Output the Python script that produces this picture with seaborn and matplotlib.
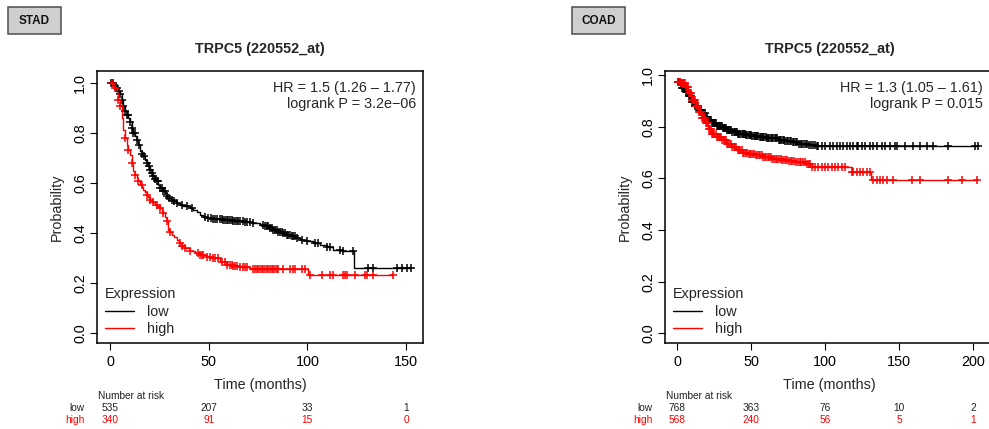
import numpy as np
import pandas as pd
import seaborn as sns
import matplotlib
matplotlib.use("Agg")
import matplotlib.pyplot as plt
import matplotlib.transforms as mtransforms
from matplotlib.patches import Rectangle

# ---- STAD: step points (time in months, survival) ----
stad_low_t = [0, 2.5, 3.4, 4.2, 5.1, 5.9, 6.8, 7.6, 8.4, 9.3, 10.1, 11, 11.8, 12.7, 13.5, 14.4, 15.2,
              16, 16.9, 17.7, 18.6, 19.4, 20.3, 21.1, 22, 22.8, 23.6, 24.5, 25.3, 26.6, 27.9, 28.7,
              29.6, 30.9, 32.1, 33.8, 35.5, 37.2, 38.9, 40.5, 42.2, 43.9, 45.6, 47.3, 49, 52.4, 57,
              62.5, 68, 72.6, 76, 78.5, 80.6, 82.8, 85, 87.3, 89.5, 92, 94, 96.3, 99.5, 103, 106.5,
              109.8, 113.2, 118, 123.6, 152.5]
stad_low_s = [1.0, 0.99, 0.98, 0.967, 0.955, 0.933, 0.907, 0.887, 0.873, 0.86, 0.843, 0.82, 0.8, 0.787,
              0.773, 0.753, 0.727, 0.715, 0.707, 0.693, 0.68, 0.667, 0.653, 0.64, 0.627, 0.617, 0.607,
              0.593, 0.58, 0.57, 0.56, 0.55, 0.54, 0.533, 0.527, 0.52, 0.513, 0.51, 0.507, 0.5, 0.493,
              0.483, 0.473, 0.466, 0.46, 0.456, 0.452, 0.447, 0.443, 0.44, 0.433, 0.427, 0.42, 0.413,
              0.407, 0.4, 0.393, 0.387, 0.38, 0.373, 0.368, 0.363, 0.355, 0.347, 0.333, 0.327, 0.26, 0.26]
stad_high_t = [0, 1.7, 2.5, 3.4, 4.2, 5.1, 5.9, 6.8, 7.6, 8.4, 9.3, 10.1, 11, 11.8, 12.7, 13.5, 14.4,
               15.2, 16.1, 16.9, 17.7, 18.6, 19.4, 20.3, 21.5, 22.8, 24, 25.3, 26.2, 27, 27.9, 28.7,
               29.6, 30.4, 31.3, 32.5, 33.8, 35, 36.3, 38, 40.5, 43, 45.6, 49, 52.4, 55.7, 59.1, 62.5,
               65.9, 70.9, 100.3, 143.6]
stad_high_s = [1.0, 0.987, 0.98, 0.96, 0.933, 0.907, 0.86, 0.813, 0.78, 0.753, 0.733, 0.713, 0.68, 0.647,
               0.633, 0.62, 0.607, 0.593, 0.583, 0.573, 0.563, 0.553, 0.543, 0.533, 0.523, 0.513, 0.507,
               0.5, 0.49, 0.48, 0.463, 0.447, 0.413, 0.403, 0.393, 0.383, 0.373, 0.36, 0.35, 0.34, 0.327,
               0.32, 0.313, 0.307, 0.3, 0.287, 0.273, 0.268, 0.264, 0.256, 0.233, 0.233]
stad_low_cens = [0.5, 1.2, 1.7, 2.6, 3.4, 4.3, 5.1, 6, 6.8, 7.6, 8.4, 9.2, 10.1, 11, 11.8, 12.6, 13.5,
                 14.6, 16, 17.2, 18.6, 19.5, 20.3, 21.2, 22, 22.8, 23.6, 24.4, 25.3, 26.1, 27, 27.8,
                 28.7, 30, 31.3, 32.5, 33.8, 36.3, 38.9, 41.4, 48.1, 49.8, 51.2, 52.4, 53.3, 54.1, 55.7,
                 56.5, 57.4, 58.2, 59.1, 60, 60.8, 61.7, 62.5, 63.3, 64.2, 65, 65.9, 67.2, 68.4, 69.6,
                 70.9, 72.6, 77.7, 78.6, 79.4, 80.2, 81.1, 82, 82.8, 83.6, 84.5, 85.3, 86.1, 87, 87.8,
                 88.6, 89.5, 90.3, 91.2, 92, 92.9, 93.7, 94.6, 97.1, 99.7, 103.9, 105.6, 109.8, 111.5,
                 116.6, 118.2, 123.3, 130.9, 133.4, 145.3, 147.8, 150.3, 152.5]
stad_high_cens = [0.8, 2.5, 4.2, 5.1, 7.6, 9.3, 11, 12.7, 14.4, 16, 18.6, 20.3, 22, 23.6, 25.3, 27,
                  28.7, 30.4, 35.5, 36.3, 38, 40.5, 44.8, 45.6, 46.5, 47.3, 49, 50.7, 52.4, 53.2,
                  54.9, 56.6, 58.3, 59.1, 60.8, 61.7, 62.5, 63.3, 64.2, 65.9, 67.6, 68.4, 69.3,
                  72.6, 73.5, 74.3, 75.2, 76, 76.9, 77.7, 78.5, 79.4, 80.2, 81.1, 81.9, 82.8, 83.6,
                  84.5, 85.3, 87.8, 91.2, 92.9, 93.8, 97.1, 98.8, 101.4, 107.3, 111.5, 113.2,
                  118.2, 119.1, 119.9, 124.2, 129.2, 130.1, 133.4, 143.6]

# ---- COAD ----
coad_low_t = [0, 2, 3.5, 5.4, 7.5, 9.9, 12, 14.4, 16.5, 18.9, 21, 23.4, 26.5, 30.2, 33.5, 36.9, 41,
              45.9, 50.5, 55, 60, 64, 68.5, 73, 77.5, 82, 88, 93, 203.4]
coad_low_s = [0.975, 0.965, 0.95, 0.935, 0.918, 0.897, 0.88, 0.865, 0.852, 0.839, 0.826, 0.813, 0.803,
              0.794, 0.787, 0.781, 0.774, 0.768, 0.764, 0.761, 0.756, 0.755, 0.75, 0.745, 0.74, 0.735,
              0.731, 0.727, 0.727]
coad_high_t = [0, 2.5, 5.4, 7.5, 9.9, 12, 14.4, 16.5, 18.9, 21, 23.4, 26.5, 30.2, 33.5, 36.9, 40, 43.7,
               48, 52.7, 58, 64, 70, 75.2, 80, 86.5, 91, 117.8, 131, 202.5]
coad_high_s = [0.975, 0.968, 0.955, 0.93, 0.903, 0.88, 0.858, 0.835, 0.813, 0.793, 0.774, 0.76, 0.748,
               0.735, 0.723, 0.712, 0.7, 0.695, 0.69, 0.684, 0.677, 0.672, 0.667, 0.663, 0.655, 0.645,
               0.626, 0.594, 0.594]
coad_low_cens = [0.5, 1, 1.6, 2.2, 2.9, 3.5, 4, 4.6, 5.2, 5.8, 6.5, 7.1, 7.7, 8.3, 8.9, 9.4, 10.1, 10.8,
                 11.4, 12, 12.7, 13.3, 13.9, 14.5, 15.2, 15.9, 16.5, 17, 17.7, 18.4, 19, 19.6, 20.3,
                 21, 21.6, 22.3, 22.9, 23.5, 24.2, 24.8, 25.5, 26.1, 26.8, 27.4, 28, 28.7, 29.4, 30,
                 30.8, 31.6, 32.3, 33, 33.7, 34.4, 35.2, 35.9, 36.6, 37.3, 38, 38.8, 39.6, 40.4, 41.2,
                 42, 42.7, 43.5, 44.3, 45.1, 45.8, 46.6, 47.4, 48.2, 49, 49.9, 50.7, 51.5, 52.2, 53,
                 53.9, 54.8, 55.6, 56.4, 57.2, 58.1, 58.9, 59.7, 60.6, 61.4, 62.3, 63.2, 64.1, 65, 65.9,
                 66.8, 67.6, 68.5, 69.4, 70.3, 71.3, 72.2, 73.1, 74.1, 75, 76, 77, 78, 79, 80.1, 81.1,
                 82.2, 83.3, 84.4, 85.5, 86.7, 87.8, 89, 90.2, 91.5, 92.8, 94.1, 95.3, 97.5, 99.8,
                 103.2, 105.4, 107.7, 110, 112.2, 114.4, 116.7, 118.9, 121.2, 122.3, 124.5, 126.8,
                 130.2, 132.4, 134.7, 138.1, 140.3, 143.7, 147, 148.2, 153.8, 159.5, 164, 168.5, 173,
                 183.1, 201.1, 203.4]
coad_high_cens = [0.8, 1.5, 2.1, 2.8, 3.4, 4, 4.7, 5.3, 6, 6.6, 7.3, 8, 8.6, 9.2, 9.9, 10.5, 11.2, 11.9,
                  12.5, 13.2, 13.9, 14.6, 15.3, 16, 16.6, 17.3, 18, 18.7, 19.4, 20.1, 20.8, 21.5, 22.2,
                  23, 23.7, 24.4, 25.1, 25.9, 26.6, 27.3, 28.1, 28.9, 29.7, 30.5, 31.3, 32.2, 33, 33.8,
                  34.6, 35.5, 36.3, 37.2, 38.1, 39, 39.9, 40.8, 41.7, 42.6, 43.5, 44.5, 45.4, 46.3,
                  47.3, 48.2, 49.2, 50.1, 51, 52, 53, 54, 55, 56, 57, 58, 59, 60.1, 61.1, 62.2, 63.2,
                  64.3, 65.4, 66.5, 67.6, 68.7, 69.8, 70.9, 72, 73.2, 74.3, 75.5, 76.6, 77.8, 79,
                  80.2, 81.4, 82.6, 83.8, 85, 86.3, 87.5, 88.7, 89.7, 91.2, 93, 95.3, 97.5, 99.8, 102,
                  104.3, 106.5, 108.8, 111, 113.2, 117.8, 118.9, 121.2, 123.4, 125.7, 127.9, 130.2,
                  132.4, 134.7, 137, 139.2, 141.4, 146, 158.4, 164, 183.1, 192.1, 202.5]

# ---- number at risk ----
stad_risk_times = [0, 50, 100, 150]
stad_risk_low = [535, 207, 33, 1]
stad_risk_high = [340, 91, 15, 0]
coad_risk_times = [0, 50, 100, 150, 200]
coad_risk_low = [768, 363, 76, 10, 2]
coad_risk_high = [568, 240, 56, 5, 1]

sns.set_style("ticks")
plt.rcParams['font.family'] = ['Liberation Sans', 'DejaVu Sans']
plt.rcParams['axes.unicode_minus'] = True

W, H = 989, 429
fig = plt.figure(figsize=(W / 100, H / 100), dpi=100)


def px_rect(left, top, right, bottom):
    return [left / W, 1 - bottom / H, (right - left) / W, (bottom - top) / H]


def step_at(times, surv, t):
    idx = np.searchsorted(times, t, side="right") - 1
    return np.asarray(surv)[np.clip(idx, 0, len(surv) - 1)]


def km_panel(ax, low_t, low_s, high_t, high_s, low_c, high_c, xlim, ylim, xticks, hr_text, hr_x):
    curves = [("low", low_t, low_s, low_c, "black"), ("high", high_t, high_s, high_c, "#ff0000")]
    for name, t, s, c, col in curves:
        df = pd.DataFrame({"time": t, "surv": s})
        sns.lineplot(data=df, x="time", y="surv", ax=ax, color=col, linewidth=1.0,
                     drawstyle="steps-post", estimator=None, sort=False, label=name)
        cy = step_at(np.array(t), s, np.array(c))
        ax.plot(c, cy, linestyle="none", marker="+", markersize=5.5, markeredgewidth=1.1, color=col)
    ax.set_xlim(*xlim)
    ax.set_ylim(*ylim)
    ax.set_xticks(xticks)
    ax.set_yticks([0.0, 0.2, 0.4, 0.6, 0.8, 1.0])
    ax.set_yticklabels(["0.0", "0.2", "0.4", "0.6", "0.8", "1.0"], rotation=90, va="center")
    ax.tick_params(axis="both", direction="out", length=5, width=0.8, labelsize=10.4, pad=4, colors="black")
    ax.tick_params(axis="y", pad=2)
    for sp in ax.spines.values():
        sp.set_visible(True)
        sp.set_linewidth(1.1)
        sp.set_color("black")
    ax.set_xlabel("Time (months)", fontsize=10.4, labelpad=6)
    ax.set_ylabel("Probability", fontsize=10.4, labelpad=7)
    ax.set_title("TRPC5 (220552_at)", fontsize=10.4, fontweight="bold", pad=13)
    ax.text(hr_x, 0.965, hr_text, transform=ax.transAxes, ha="right", va="top",
            fontsize=10.4, linespacing=1.25)
    leg = ax.legend(title="Expression", loc="lower left", bbox_to_anchor=(0.005, 0.0), frameon=False,
                    fontsize=10.4, title_fontsize=10.4, alignment="left", handlelength=2.0,
                    handletextpad=0.9, labelspacing=0.25, borderpad=0.4, borderaxespad=0.05)
    for line in leg.get_lines():
        line.set_linewidth(1.0)


def risk_table(ax, times, low, high):
    tr = mtransforms.blended_transform_factory(ax.transData, fig.transFigure)
    tra = mtransforms.blended_transform_factory(ax.transAxes, fig.transFigure)
    ax.text(0.002, 1 - 396 / H, "Number at risk", transform=tra, ha="left", va="center",
            fontsize=7.3, color="#222222")
    ax.text(-0.039, 1 - 408.3 / H, "low", transform=tra, ha="right", va="center", fontsize=7.3, color="#222222")
    ax.text(-0.039, 1 - 420 / H, "high", transform=tra, ha="right", va="center", fontsize=7.3, color="#ff0000")
    for t, l, h in zip(times, low, high):
        ax.text(t, 1 - 408.3 / H, str(l), transform=tr, ha="center", va="center", fontsize=7.3, color="#222222")
        ax.text(t, 1 - 420 / H, str(h), transform=tr, ha="center", va="center", fontsize=7.3, color="#ff0000")


def tag_box(left, top, right, bottom, label):
    fig.patches.append(Rectangle((left / W, 1 - bottom / H), (right - left) / W, (bottom - top) / H,
                                 transform=fig.transFigure, facecolor="#cfcfcf", edgecolor="#4d4d4d",
                                 linewidth=1.1))
    fig.text((left + right) / 2 / W, 1 - (top + bottom) / 2 / H, label, ha="center", va="center",
             fontsize=8.5, fontweight="bold", color="#111111")


ax1 = fig.add_axes(px_rect(97, 71, 423, 343))
km_panel(ax1, stad_low_t, stad_low_s, stad_high_t, stad_high_s, stad_low_cens, stad_high_cens,
         (-6.6, 158.6), (-0.039, 1.049), [0, 50, 100, 150],
         "HR = 1.5 (1.26 \u2013 1.77)\nlogrank P = 3.2e\u221206", 0.978)
risk_table(ax1, stad_risk_times, stad_risk_low, stad_risk_high)

ax2 = fig.add_axes(px_rect(665, 71, 994, 343))
km_panel(ax2, coad_low_t, coad_low_s, coad_high_t, coad_high_s, coad_low_cens, coad_high_cens,
         (-8.3, 214.0), (-0.037, 1.016), [0, 50, 100, 150, 200],
         "HR = 1.3 (1.05 \u2013 1.61)\nlogrank P = 0.015", 0.967)
risk_table(ax2, coad_risk_times, coad_risk_low, coad_risk_high)

tag_box(7.7, 6.7, 61.3, 34.3, "STAD")
tag_box(571.7, 6.7, 625, 34.3, "COAD")

fig.savefig("out.png", dpi=100, facecolor="white")
